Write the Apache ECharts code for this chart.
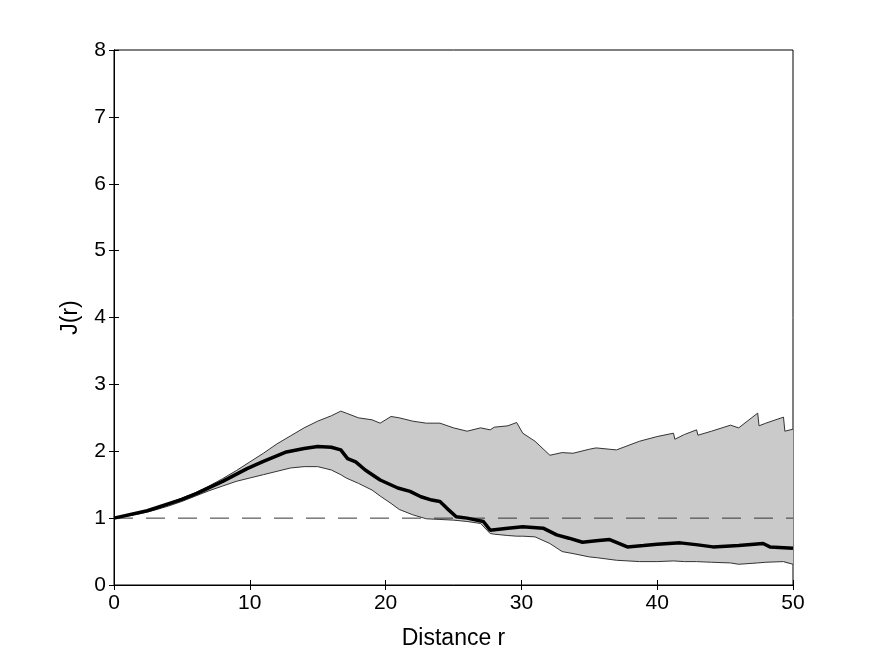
<!DOCTYPE html>
<html>
<head>
<meta charset="utf-8">
<script src="https://cdn.jsdelivr.net/npm/echarts@6/dist/echarts.min.js"></script>
<style>
  html, body { margin: 0; padding: 0; background: #fff; }
  #chart { width: 875px; height: 659px; }
</style>
</head>
<body>
<div id="chart"></div>
<script>
// envelope grid (distance r) with upper / lower bounds
var envR = [0, 1, 2, 3, 4, 5, 6, 7, 8, 9, 10, 11, 12, 13, 14, 15, 16, 16.7, 17.1, 18, 19, 19.6, 20.4, 21, 22, 23, 24, 25, 26, 27, 27.7, 28, 29, 29.65, 30.1, 31, 32.1, 33, 33.8, 35, 35.5, 37, 38.7, 40, 41.2, 41.3, 42, 42.9, 43, 44, 45.4, 46, 47.4, 47.5, 48, 49.3, 49.4, 50];
var envUpper = [1.0, 1.04, 1.09, 1.15, 1.22, 1.30, 1.38, 1.48, 1.59, 1.71, 1.84, 1.97, 2.11, 2.23, 2.35, 2.45, 2.53, 2.60, 2.57, 2.50, 2.47, 2.42, 2.52, 2.50, 2.45, 2.42, 2.42, 2.35, 2.30, 2.35, 2.32, 2.36, 2.38, 2.43, 2.27, 2.15, 1.94, 1.98, 1.97, 2.03, 2.05, 2.02, 2.15, 2.22, 2.27, 2.18, 2.25, 2.32, 2.24, 2.30, 2.39, 2.35, 2.57, 2.38, 2.42, 2.51, 2.30, 2.33];
var envLower = [1.0, 1.03, 1.07, 1.12, 1.18, 1.25, 1.33, 1.41, 1.48, 1.55, 1.60, 1.65, 1.70, 1.75, 1.77, 1.77, 1.72, 1.65, 1.60, 1.52, 1.42, 1.33, 1.22, 1.13, 1.05, 0.99, 0.98, 0.97, 0.95, 0.92, 0.77, 0.76, 0.74, 0.73, 0.73, 0.72, 0.62, 0.50, 0.47, 0.42, 0.41, 0.37, 0.35, 0.35, 0.36, 0.36, 0.35, 0.35, 0.35, 0.34, 0.33, 0.31, 0.33, 0.33, 0.34, 0.35, 0.33, 0.31];

// observed J(r)
var obsR = [0, 2.45, 5, 6.1, 8, 9.8, 11, 12.7, 14, 15, 16, 16.7, 17.2, 17.8, 18.5, 19.6, 20.9, 21.8, 22.6, 23.4, 24, 24.5, 25.2, 26, 27.2, 27.7, 29, 30.1, 31.6, 32.6, 33.5, 34.5, 35.5, 36.5, 37.8, 39, 40, 41.7, 43, 44.1, 46, 47.8, 48.3, 50];
var obsJ = [1.0, 1.11, 1.28, 1.37, 1.55, 1.74, 1.85, 1.99, 2.04, 2.07, 2.06, 2.02, 1.89, 1.84, 1.72, 1.57, 1.45, 1.40, 1.32, 1.27, 1.25, 1.15, 1.02, 1.00, 0.95, 0.82, 0.85, 0.87, 0.85, 0.75, 0.70, 0.64, 0.66, 0.68, 0.57, 0.59, 0.61, 0.63, 0.60, 0.57, 0.59, 0.62, 0.57, 0.55];

// reference line J = 1
var refR = [0, 50];
var refJ = [1, 1];

var lowerData = envR.map(function (r, i) { return [r, envLower[i]]; });
var upperData = envR.map(function (r, i) { return [r, envUpper[i]]; });
var obsData = obsR.map(function (r, i) { return [r, obsJ[i]]; });
var refData = refR.map(function (r, i) { return [r, refJ[i]]; });

var chart = echarts.init(document.getElementById('chart'));
var font = 'Liberation Sans, Arial, sans-serif';

// grey band between the envelopes, one polygon
function renderBand(params, api) {
  if (params.dataIndex !== 0) return;
  var pts = [];
  for (var i = 0; i < envR.length; i++) pts.push(api.coord([envR[i], envUpper[i]]));
  for (var j = envR.length - 1; j >= 0; j--) pts.push(api.coord([envR[j], envLower[j]]));
  return {
    type: 'polygon',
    shape: { points: pts },
    style: { fill: '#cacaca', stroke: null }
  };
}

chart.setOption({
  animation: false,
  backgroundColor: '#fff',
  grid: {
    left: 114, top: 50, width: 679, height: 535,
    show: true, borderColor: '#000', borderWidth: 1, backgroundColor: 'transparent'
  },
  xAxis: [{
    type: 'value', min: 0, max: 50, interval: 10,
    name: 'Distance r', nameLocation: 'middle', nameGap: 42,
    nameTextStyle: { fontFamily: font, fontSize: 23, color: '#000' },
    axisLine: { show: true, lineStyle: { color: '#000' } },
    axisTick: { show: true, inside: true, length: 5, lineStyle: { color: '#000' } },
    axisLabel: { fontFamily: font, fontSize: 21, color: '#000', margin: 8 },
    splitLine: { show: false }
  }, {
    type: 'value', min: 0, max: 50, interval: 10, position: 'top',
    axisLine: { show: true, lineStyle: { color: '#000' } },
    axisTick: { show: true, inside: true, length: 5, lineStyle: { color: '#000' } },
    axisLabel: { show: false },
    splitLine: { show: false }
  }],
  yAxis: [{
    type: 'value', min: 0, max: 8, interval: 1,
    name: 'J(r)', nameLocation: 'middle', nameGap: 32, nameRotate: 90,
    nameTextStyle: { fontFamily: font, fontSize: 23, color: '#000' },
    axisLine: { show: true, lineStyle: { color: '#000' } },
    axisTick: { show: true, inside: true, length: 5, lineStyle: { color: '#000' } },
    axisLabel: { fontFamily: font, fontSize: 21, color: '#000', margin: 8 },
    splitLine: { show: false }
  }, {
    type: 'value', min: 0, max: 8, interval: 1, position: 'right',
    axisLine: { show: true, lineStyle: { color: '#000' } },
    axisTick: { show: true, inside: true, length: 5, lineStyle: { color: '#000' } },
    axisLabel: { show: false },
    splitLine: { show: false }
  }],
  series: [
    {
      name: 'band', type: 'custom', data: [[0, 1]],
      renderItem: renderBand, silent: true, z: 1
    },
    {
      name: 'lower', type: 'line', data: lowerData,
      symbol: 'none', lineStyle: { color: '#333', width: 1 }, z: 2
    },
    {
      name: 'upper', type: 'line', data: upperData,
      symbol: 'none', lineStyle: { color: '#333', width: 1 }, z: 2
    },
    {
      name: 'ref', type: 'line', data: refData,
      symbol: 'none', lineStyle: { color: '#333', width: 1, type: [19, 13] }, z: 3
    },
    {
      name: 'J', type: 'line', data: obsData,
      symbol: 'none', lineStyle: { color: '#000', width: 3.5 }, z: 4
    }
  ]
});
</script>
</body>
</html>
